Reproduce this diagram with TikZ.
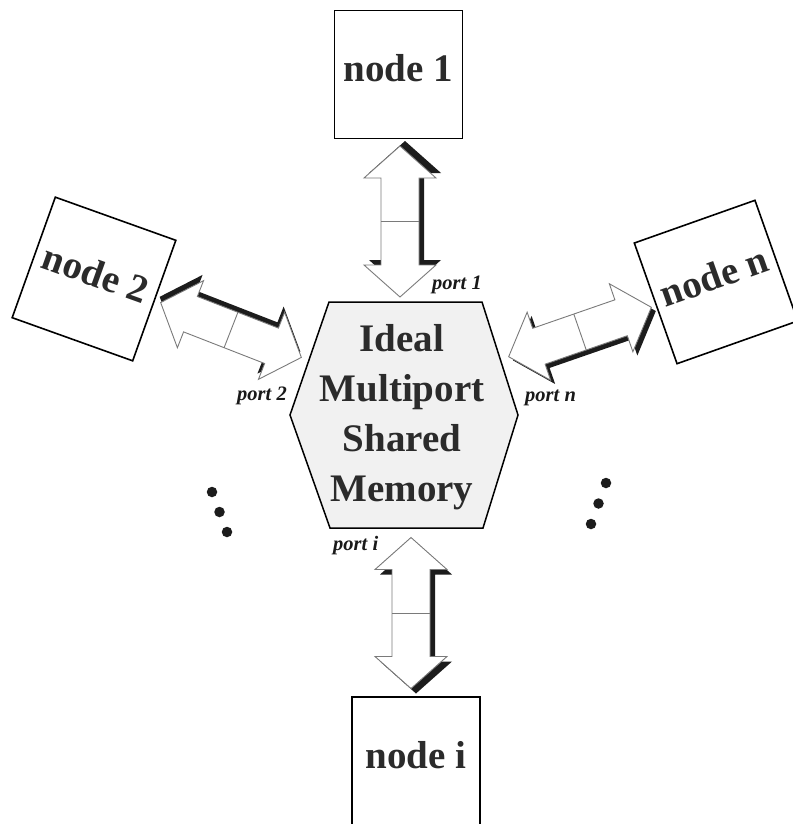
\documentclass[tikz,border=0pt]{standalone}
\usepackage{fontspec}
\setmainfont{Liberation Serif}
\usetikzlibrary{calc}
\definecolor{inktext}{HTML}{2B2B2B}
\definecolor{memfill}{HTML}{F1F1F1}
\definecolor{edgegray}{HTML}{7A7A7A}
\definecolor{shadowink}{HTML}{1C1C1C}
\begin{document}
\begin{tikzpicture}[x=1pt,y=-1pt,
  nodebox/.style={draw=black, line width=1.6pt, fill=white,
    minimum width=128pt, minimum height=128pt, inner sep=0pt,
    font=\fontsize{39}{39}\bfseries\selectfont, text=inktext,
    text height=24pt, text depth=9pt},
  memtext/.style={align=center, inner sep=0pt, text=inktext,
    font=\fontsize{39}{50}\bfseries\selectfont},
  hexa/.style={draw=black, line width=1.5pt, fill=memfill, line join=miter},
  portlabel/.style={anchor=base west, inner sep=0pt, text=black!90,
    font=\fontsize{20.5}{20.5}\bfseries\itshape\selectfont},
  dotmark/.style={circle, fill=shadowink, inner sep=0pt, minimum size=10.5pt},
  duplexshape/.style={insert path={(-75.5,0) -- (-43.5,36) -- (-43.5,19)
    -- (43.5,19) -- (43.5,36) -- (75.5,0) -- (43.5,-36) -- (43.5,-19)
    -- (-43.5,-19) -- (-43.5,-36) -- cycle}},
  arrowline/.style={draw=edgegray, line width=0.9pt, line join=miter},
  pics/duplex/.style 2 args={code={
    % dark offset copy gives the raised look
    \path[fill=shadowink, shift={(#1,#2)}, duplexshape];
    \path[arrowline, fill=white, duplexshape];
    \draw[arrowline] (0,-19) -- (0,19);
  }}]
\useasboundingbox (0,0) rectangle (792,824);
\fill[white] (0,0) rectangle (792,824);

% shared memory hexagon
\coordinate (mc) at (404,415);
\path[hexa] ($(mc)+(-75,-113)$) -- ($(mc)+(78,-113)$) -- ($(mc)+(114,0)$)
  -- ($(mc)+(79,113)$) -- ($(mc)+(-74,113)$) -- ($(mc)+(-114,0)$) -- cycle;
\node[memtext] (mem) at (402,417.5) {Ideal\\Multiport\\Shared\\Memory};

% processing nodes
\node[nodebox] (n1) at (398.5,74.5) {node 1};
\node[nodebox, rotate=-19.7] (n2) at (94,279) {node 2};
\node[nodebox, rotate=19.5] (nn) at (716,282) {node n};
\node[nodebox] (ni) at (416,761) {node i};

% bidirectional links between nodes and memory ports
\coordinate (l1) at (400,221.5);
\coordinate (l2) at (231,330);
\coordinate (ln) at (580,332);
\coordinate (li) at (411,613);
\pic[rotate=90] at (l1) {duplex={5}{5}};
\pic[rotate=-21.3] at (l2) {duplex={-3}{-5}};
\pic[rotate=19.1] at (ln) {duplex={3}{5}};
\pic[rotate=90] at (li) {duplex={-5}{5}};

% port names
\node[portlabel] (p1) at (432,289) {port 1};
\node[portlabel] (p2) at (237,400) {port 2};
\node[portlabel] (pn) at (525,401) {port n};
\node[portlabel] (pi) at (333,550) {port i};

% ellipsis dots for further nodes
\node[dotmark] (dl1) at (212,492) {};
\node[dotmark] (dl2) at (219.5,512) {};
\node[dotmark] (dl3) at (227,532) {};
\node[dotmark] (dr1) at (606,483) {};
\node[dotmark] (dr2) at (598.5,503.5) {};
\node[dotmark] (dr3) at (591,524) {};
\end{tikzpicture}
\end{document}
